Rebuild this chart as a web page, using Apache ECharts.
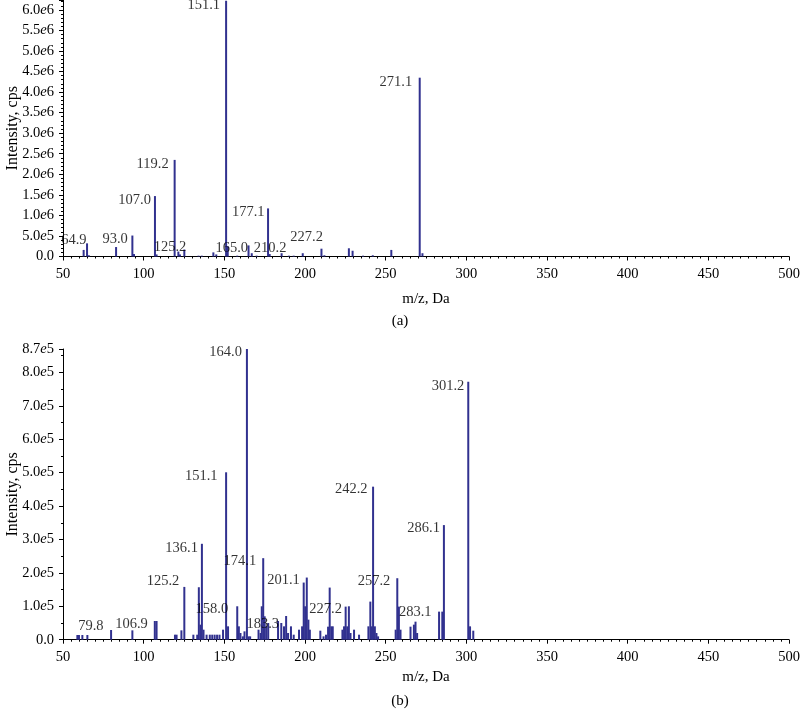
<!DOCTYPE html>
<html><head><meta charset="utf-8">
<script src="https://cdn.jsdelivr.net/npm/echarts@6/dist/echarts.min.js"></script>
<style>html,body{margin:0;padding:0;background:#fff}#c{width:800px;height:714px}</style>
</head><body><div id="c"></div>
<script>
// ---------- data: panel (a) ----------
const mzA  = [62.8, 64.9, 66.0, 82.9, 93.0, 94.0, 107.0, 108.0, 119.2, 121.5, 122.5, 125.2, 134.0, 136.0, 143.2, 145.0,
              151.1, 152.1, 158.0, 165.0, 167.0, 170.0, 177.1, 178.1, 185.5, 190.0, 193.0, 198.6, 210.2, 212.0,
              227.2, 229.5, 236.0, 242.0, 253.5, 271.1, 272.8];
const intA = [1.6e5, 3.2e5, 0.3e5, 2.3e5, 5.1e5, 0.6e5, 1.47e6, 0.5e5, 2.35e6, 1.2e5, 0.5e5, 1.7e5, 0.2e5, 0.2e5, 1.0e5, 0.5e5,
              6.22e6, 2.5e5, 0.2e5, 2.7e5, 0.8e5, 0.2e5, 1.17e6, 0.6e5, 0.8e5, 0.2e5, 0.2e5, 0.8e5, 1.9e5, 0.3e5,
              2.0e5, 1.4e5, 0.2e5, 0.3e5, 1.6e5, 4.35e6, 0.8e5];
const labelsA = ['64.9', '93.0', '107.0', '119.2', '125.2', '151.1', '165.0', '177.1', '210.2', '227.2', '271.1'];

// ---------- data: panel (b) ----------
const mzB  = [58.9, 59.9, 62.0, 65.1, 79.8, 93.0, 106.9, 108.0, 119.4, 120.4, 123.4, 125.2, 130.8, 133.2, 134.2, 135.2,
              136.1, 137.1, 139.0, 141.0, 142.5, 144.0, 145.5, 147.0, 149.2, 151.1, 152.3, 158.0, 159.0, 160.0,
              161.5, 162.5, 164.0, 165.0, 166.0, 171.2, 172.5, 173.2, 174.1, 175.0, 176.0, 177.2, 183.3, 185.3,
              187.0, 188.3, 189.5, 191.3, 193.0, 196.3, 198.2, 199.2, 200.1, 201.1, 202.1, 203.0, 209.5, 211.5,
              213.0, 214.3, 215.3, 216.3, 217.2, 223.2, 224.2, 225.2, 226.2, 227.2, 228.2, 230.4, 233.5, 239.3,
              240.5, 241.5, 242.2, 243.3, 244.3, 245.3, 256.2, 257.2, 258.2, 259.2, 265.4, 267.5, 268.5, 269.5,
              283.1, 285.1, 286.1, 301.2, 302.3, 304.3];
const intB = [0.14e5, 0.14e5, 0.14e5, 0.14e5, 0.29e5, 0.28e5, 0.56e5, 0.56e5, 0.15e5, 0.15e5, 0.28e5, 1.58e5, 0.15e5, 0.15e5, 1.57e5, 0.45e5,
              2.87e5, 0.3e5, 0.15e5, 0.15e5, 0.15e5, 0.15e5, 0.15e5, 0.15e5, 0.3e5, 5.01e5, 0.4e5, 1.0e5, 0.4e5, 0.2e5,
              0.1e5, 0.25e5, 8.7e5, 0.1e5, 0.1e5, 0.3e5, 0.2e5, 1.0e5, 2.44e5, 0.7e5, 0.4e5, 0.5e5, 0.56e5, 0.5e5,
              0.4e5, 0.71e5, 0.2e5, 0.4e5, 0.15e5, 0.3e5, 0.4e5, 1.71e5, 1.0e5, 1.86e5, 0.6e5, 0.3e5, 0.27e5, 0.1e5,
              0.15e5, 0.39e5, 1.56e5, 0.4e5, 0.4e5, 0.3e5, 0.4e5, 0.99e5, 0.4e5, 1.0e5, 0.2e5, 0.3e5, 0.15e5, 0.4e5,
              1.14e5, 0.4e5, 4.58e5, 0.4e5, 0.2e5, 0.1e5, 0.3e5, 1.84e5, 0.99e5, 0.3e5, 0.39e5, 0.45e5, 0.54e5, 0.2e5,
              0.84e5, 0.84e5, 3.43e5, 7.72e5, 0.4e5, 0.27e5];
const labelsB = ['79.8', '106.9', '125.2', '136.1', '151.1', '158.0', '164.0', '174.1', '183.3', '201.1', '227.2',
                 '242.2', '257.2', '283.1', '286.1', '301.2'];

// ---------- axis settings ----------
const xMin = 50, xMax = 500, xStep = 50;
const yMaxA = 6.24e6, yStepA = 5e5;
const yMaxB = 8.7e5, yStepB = 1e5;
const xName = 'm/z, Da', yName = 'Intensity, cps';
const panelTitles = ['(a)', '(b)'];

// ---------- styling (label placement: [gap left of peak, px below peak top]) ----------
const FONT = 'Liberation Serif';
const INK = '#000';
const BAR = '#31318f';
const nudgeA = { _d: [6, 4], '64.9': [0.5, -3], '107.0': [4, 4], '177.1': [3.5, 4], '93.0': [4.5, 4], '125.2': [-2, -2],
                 '165.0': [0.5, 2.5], '210.2': [35, -1], '227.2': [26, -11], '271.1': [7.5, 4] };
const nudgeB = { _d: [7, 3], '164.0': [5, 3], '151.1': [8.5, 4], '136.1': [4, 4], '125.2': [5, -6], '79.8': [7.5, -4],
                 '286.1': [4, 3], '301.2': [4, 4], '242.2': [5.5, 3], '283.1': [7.5, 0.5], '183.3': [-1, 3], '158.0': [9, 3] };

function sci(v, step, max) {
  if (v === 0) return '{n|0.0}';
  const onStep = Math.abs(v / step - Math.round(v / step)) < 1e-6;
  if (!onStep && max === yMaxA) return '';
  const e = Math.floor(Math.log10(v) + 1e-9);
  const m = (v / Math.pow(10, e)).toFixed(1);
  return '{n|' + m + '}{e|e}{n|' + e + '}';
}
const rich = { n: { fontFamily: FONT, fontSize: 14.5, color: INK }, e: { fontFamily: FONT, fontSize: 14.5, fontStyle: 'italic', color: INK } };

function labelPoints(mz, it, labels, nudge) {
  return labels.map(t => {
    const i = mz.findIndex(m => Math.abs(m - parseFloat(t)) < 1e-6);
    const n = nudge[t] || nudge._d;
    return { value: [mz[i], it[i]], name: t, label: { offset: [-n[0], n[1]] } };
  });
}

const grids = [
  { left: 63, right: 11, top: 0, height: 256.5, outerBoundsMode: 'none', containLabel: false },
  { left: 63, right: 11, top: 349, height: 290.7, outerBoundsMode: 'none', containLabel: false }
];
function xAxisCfg(gi, gap) {
  return { type: 'value', gridIndex: gi, min: xMin, max: xMax, interval: xStep,
    name: xName, nameLocation: 'middle', nameGap: gap, nameMoveOverlap: false,
    nameTextStyle: { fontFamily: FONT, fontSize: 15, color: INK },
    axisLine: { lineStyle: { color: '#000', width: 1 } },
    axisTick: { length: 4, lineStyle: { color: '#000' } },
    minorTick: { show: true, splitNumber: 10, length: 2, lineStyle: { color: '#000' } },
    axisLabel: { fontFamily: FONT, fontSize: 14.5, color: INK, margin: 10 },
    splitLine: { show: false } };
}
function yAxisCfg(gi, max, step, split) {
  return { type: 'value', gridIndex: gi, min: 0, max: max, interval: step,
    name: yName, nameLocation: 'middle', nameGap: 42, nameMoveOverlap: false,
    nameTextStyle: { fontFamily: FONT, fontSize: 16, color: INK },
    axisLine: { show: true, lineStyle: { color: '#000', width: 1 } },
    axisTick: { show: true, length: 4, lineStyle: { color: '#000' } },
    minorTick: { show: true, splitNumber: split, length: 2, lineStyle: { color: '#000' } },
    axisLabel: { margin: 9, formatter: v => sci(v, step, max), rich: rich, hideOverlap: false },
    splitLine: { show: false } };
}
function barSeries(gi, mz, it) {
  return { type: 'bar', xAxisIndex: gi, yAxisIndex: gi, barWidth: 2,
    itemStyle: { color: BAR }, data: mz.map((m, i) => [m, it[i]]), silent: true, z: 2 };
}
function labelSeries(gi, pts) {
  return { type: 'scatter', xAxisIndex: gi, yAxisIndex: gi, symbolSize: 0, z: 3, silent: true,
    label: { show: true, position: 'left', distance: 0, formatter: p => p.name,
             fontFamily: FONT, fontSize: 14.5, color: INK, align: 'right', verticalAlign: 'middle' },
    data: pts };
}

const chart = echarts.init(document.getElementById('c'), null, { renderer: 'canvas' });
chart.setOption({
  backgroundColor: '#fff',
  animation: false,
  grid: grids,
  xAxis: [xAxisCfg(0, 35), xAxisCfg(1, 30)],
  yAxis: [yAxisCfg(0, yMaxA, yStepA, 5), yAxisCfg(1, yMaxB, yStepB, 2)],
  series: [
    barSeries(0, mzA, intA), labelSeries(0, labelPoints(mzA, intA, labelsA, nudgeA)),
    barSeries(1, mzB, intB), labelSeries(1, labelPoints(mzB, intB, labelsB, nudgeB))
  ],
  graphic: [
    { type: 'text', left: 'center', top: 314, style: { text: panelTitles[0], font: '15px "' + FONT + '"', fill: INK } },
    { type: 'text', left: 'center', top: 694, style: { text: panelTitles[1], font: '15px "' + FONT + '"', fill: INK } }
  ]
});
</script>
</body></html>
